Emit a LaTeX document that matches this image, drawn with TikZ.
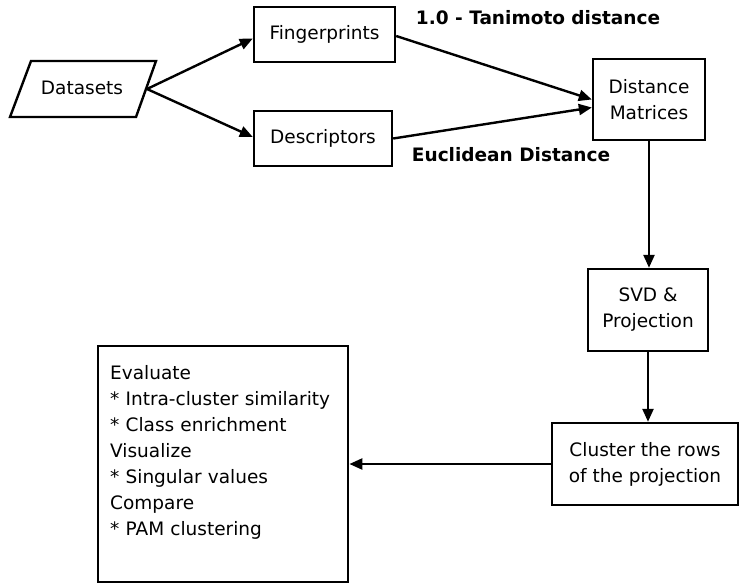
\documentclass[tikz,border=0pt]{standalone}
\usepackage{fontspec}
\setmainfont{DejaVu Sans}
\usetikzlibrary{arrows.meta, calc, positioning}
\tikzset{
    box/.style={draw, line width=2.4pt, inner sep=0pt, align=center,
        font=\fontsize{18.5}{26}\selectfont},
    flow/.style={line width=2.4pt, -{Triangle[length=13pt, width=11pt]}},
    edgelabel/.style={inner sep=0pt, font=\fontsize{18.5}{26}\selectfont\bfseries}
}

\begin{document}
\begin{tikzpicture}[x=1pt, y=-1pt]
    \useasboundingbox (0,0) rectangle (740,582);
    % input parallelogram
    \coordinate (d1) at (31,61);
    \coordinate (d2) at (156,61);
    \coordinate (d3) at (136,117);
    \coordinate (d4) at (10,117);
    \coordinate (dout) at (147,89);
    \draw[line width=2.4pt, line join=miter] (d1) -- (d2) -- (d3) -- (d4) -- cycle;
    \node[inner sep=0pt, font=\fontsize{18.5}{26}\selectfont] (data) at (82,88) {Datasets};
    \node[box, minimum width=141, minimum height=55] (fp) at (324.5,34.5) {Fingerprints};
    \node[box, minimum width=138, minimum height=55] (desc) at (323,138.5) {Descriptors};
    \node[box, minimum width=112, minimum height=81] (dm) at (649,99.5) {Distance\\Matrices};
    \node[box, minimum width=120, minimum height=82] (svd) at (648,310) {SVD \&\\Projection};
    \node[box, minimum width=186, minimum height=82] (clust) at (645,464) {Cluster the rows\\of the projection};
    \node[box, align=left, anchor=north west, inner xsep=12pt, inner ysep=0pt,
        text width=226pt, text height=33pt, text depth=203pt] (eval) at (97,345)
        {Evaluate\\{}* Intra-cluster similarity\\{}* Class enrichment\\Visualize\\%
         {}* Singular values\\Compare\\{}* PAM clustering};
    \node[edgelabel] (tani) at (538,18) {1.0 - Tanimoto distance};
    \node[edgelabel] (eucl) at (511,155) {Euclidean Distance};
    \draw[flow] (dout) -- ([yshift=-4pt]fp.west);
    \draw[flow] (dout) -- ([yshift=1.5pt]desc.west);
    \draw[flow] ([yshift=-1.5pt]fp.east) -- (dm.west);
    \draw[flow] (desc.east) -- ([yshift=-8pt]dm.west);
    \draw[flow] (dm.south) -- (dm.south |- svd.north);
    \draw[flow] (svd.south) -- (svd.south |- clust.north);
    \draw[flow] (clust.west) -- (clust.west -| eval.east);
\end{tikzpicture}
\end{document}
